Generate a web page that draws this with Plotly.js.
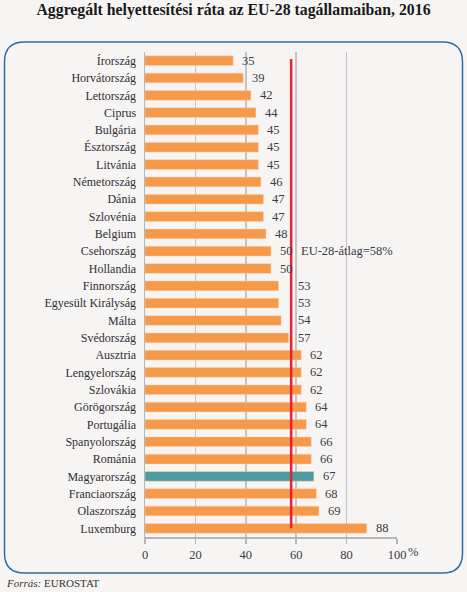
<!DOCTYPE html>
<html>
<head>
<meta charset="utf-8">
<script src="https://cdn.plot.ly/plotly-3.0.1.min.js"></script>
<style>
html,body{margin:0;padding:0;background:#f6f5f3;}
#chart{width:467px;height:592px;}
</style>
</head>
<body>
<div id="chart"></div>
<script>
const countries = ["Írország","Horvátország","Lettország","Ciprus","Bulgária","Észtország","Litvánia","Németország","Dánia","Szlovénia","Belgium","Csehország","Hollandia","Finnország","Egyesült Királyság","Málta","Svédország","Ausztria","Lengyelország","Szlovákia","Görögország","Portugália","Spanyolország","Románia","Magyarország","Franciaország","Olaszország","Luxemburg"];
const rates = [35,39,42,44,45,45,45,46,47,47,48,50,50,53,53,54,57,62,62,62,64,64,66,66,67,68,69,88];
const highlight = "Magyarország";
const euAverage = 58;
const avgLabel = "EU-28-átlag=58%";
const avgLabelRow = "Csehország";
const xTicks = [0,20,40,60,80,100];
const titleText = "Aggregált helyettesítési ráta az EU-28 tagállamaiban, 2016";
const sourceText = "<i>Forrás:</i> EUROSTAT";

const W = 467, H = 592;
const M = {l:145, r:70, t:52, b:55};
const pw = W - M.l - M.r, ph = H - M.t - M.b;
const px = x => (x - M.l) / pw;
const py = y => (H - M.b - y) / ph;

const ORANGE = "#f5994a", TEAL = "#4e9ba1";
const colors = countries.map(c => c === highlight ? TEAL : ORANGE);
const fontFam = "'Liberation Serif', serif";

const trace = {
  type: "bar", orientation: "h",
  x: rates, y: countries,
  marker: {color: colors, line: {color: "rgba(255,210,170,0.6)", width: 0.8}},
  width: 0.56,
  hoverinfo: "none"
};

function roundRect(x0, y0, x1, y1, r) {
  const P = (x, y) => px(x) + "," + py(y);
  return "M" + P(x0 + r, y0) + " L" + P(x1 - r, y0) + " Q" + P(x1, y0) + " " + P(x1, y0 + r) +
    " L" + P(x1, y1 - r) + " Q" + P(x1, y1) + " " + P(x1 - r, y1) +
    " L" + P(x0 + r, y1) + " Q" + P(x0, y1) + " " + P(x0, y1 - r) +
    " L" + P(x0, y0 + r) + " Q" + P(x0, y0) + " " + P(x0 + r, y0) + " Z";
}

const valueAnns = rates.map((v, i) => {
  const nearLine = v > 50 && v < euAverage;
  return {
    x: nearLine ? euAverage : v, y: countries[i], xref: "x", yref: "y",
    text: String(v), showarrow: false, xanchor: "left",
    xshift: nearLine ? 5 : 7,
    font: {family: fontFam, size: 12.5, color: "#3a3a44"}
  };
});

const layout = {
  width: W, height: H,
  paper_bgcolor: "#f6f5f3", plot_bgcolor: "rgba(0,0,0,0)",
  margin: M,
  showlegend: false,
  bargap: 0.44,
  title: {
    text: "<b>" + titleText + "</b>",
    font: {family: fontFam, size: 15.8, color: "#1a1a1a"},
    x: 0.5, xanchor: "center", y: 1 - 9/H, yanchor: "middle", yref: "container"
  },
  xaxis: {
    range: [0, 100], tickvals: xTicks, ticktext: xTicks.map(String),
    showgrid: true, gridcolor: "#c4c4c4", gridwidth: 1.5,
    zeroline: false, showline: true, linecolor: "#b5b5b5", linewidth: 1.5,
    ticks: "outside", ticklen: 5, tickcolor: "#b5b5b5", tickwidth: 1.5,
    tickfont: {family: fontFam, size: 12.5, color: "#3a3a44"},
    fixedrange: true
  },
  yaxis: {
    categoryorder: "array", categoryarray: countries,
    range: [countries.length - 0.5, -0.5],
    showgrid: false, zeroline: false, showline: true, linecolor: "#b5b5b5", linewidth: 1.5,
    ticks: "outside", ticklen: 5, tickcolor: "rgba(0,0,0,0)",
    tickfont: {family: fontFam, size: 12, color: "#2e2e36"},
    fixedrange: true
  },
  shapes: [
    {type: "path", xref: "paper", yref: "paper", path: roundRect(4.5, 42, 462.5, 573, 20),
     line: {color: "#2f6da4", width: 1.5}, fillcolor: "rgba(0,0,0,0)", layer: "below"},
    {type: "line", xref: "x", yref: "y", x0: euAverage, x1: euAverage, y0: -0.1, y1: countries.length - 1,
     line: {color: "#e8203a", width: 2.5}, layer: "above"}
  ],
  annotations: valueAnns.concat([
    {x: euAverage, y: avgLabelRow, xref: "x", yref: "y", text: avgLabel, showarrow: false,
     xanchor: "left", xshift: 8, font: {family: fontFam, size: 12.5, color: "#3a3a44"}},
    {x: 100, y: py(552), xref: "x", yref: "paper", text: "%", showarrow: false,
     xanchor: "left", yanchor: "middle", xshift: 9, font: {family: fontFam, size: 12.5, color: "#3a3a44"}},
    {x: px(4), y: py(591), xref: "paper", yref: "paper", text: sourceText, showarrow: false,
     xanchor: "left", yanchor: "bottom", font: {family: fontFam, size: 11, color: "#333"}}
  ])
};

Plotly.newPlot("chart", [trace], layout, {displayModeBar: false, staticPlot: true});
</script>
</body>
</html>
